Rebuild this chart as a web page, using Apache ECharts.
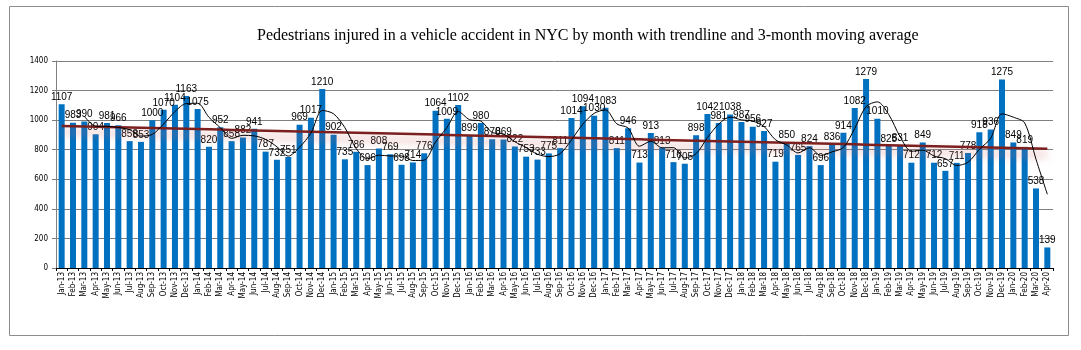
<!DOCTYPE html>
<html>
<head>
<meta charset="utf-8">
<script src="https://cdn.jsdelivr.net/npm/echarts@6/dist/echarts.min.js"></script>
<style>
  html, body { margin: 0; padding: 0; background: #fff; }
  #chart { width: 1081px; height: 350px; }
</style>
</head>
<body>
<div id="chart"></div>
<script>
var months = ['Jan','Feb','Mar','Apr','May','Jun','Jul','Aug','Sep','Oct','Nov','Dec'];
var categories = [];
for (var y = 13; y <= 20; y++) {
  for (var m = 0; m < 12; m++) {
    if (y === 20 && m > 3) break;
    categories.push(months[m] + '-' + y);
  }
}

var injured = [
  1107, 983, 990, 904, 981, 966, 858, 853, 1000, 1070, 1104, 1163,
  1075, 820, 952, 858, 882, 941, 787, 732, 751, 969, 1017, 1210,
  902, 735, 786, 696, 808, 769, 698, 714, 776, 1064, 1009, 1102,
  899, 980, 870, 869, 822, 753, 733, 775, 811, 1014, 1094, 1030,
  1083, 811, 946, 713, 913, 813, 716, 705, 898, 1042, 981, 1038,
  987, 956, 927, 719, 850, 765, 824, 696, 836, 914, 1082, 1279,
  1010, 825, 831, 712, 849, 712, 657, 711, 778, 918, 936, 1275,
  849, 819, 538, 139
];

var yTicks = [0, 200, 400, 600, 800, 1000, 1200, 1400];

// 3-month moving average
var movingAvg = injured.map(function (v, i) {
  if (i < 2) return null;
  return Math.round((injured[i] + injured[i - 1] + injured[i - 2]) / 3 * 10) / 10;
});

// linear trendline (least squares)
var n = injured.length, sx = 0, sy = 0, sxy = 0, sxx = 0;
injured.forEach(function (v, i) { sx += i; sy += v; sxy += i * v; sxx += i * i; });
var slope = (n * sxy - sx * sy) / (n * sxx - sx * sx);
var icpt = (sy - slope * sx) / n;
var trend = injured.map(function (v, i) { return icpt + slope * i; });

var chart = echarts.init(document.getElementById('chart'));
chart.setOption({
  animation: false,
  backgroundColor: '#fff',
  title: {
    text: 'Pedestrians injured in a vehicle accident in NYC by month with trendline and 3-month moving average',
    left: 252,
    top: 23,
    textStyle: { fontFamily: 'Liberation Serif', fontSize: 16, fontWeight: 'normal', color: '#000' }
  },
  graphic: [{
    type: 'rect',
    shape: { x: 9.5, y: 6.5, width: 1059, height: 329 },
    style: { fill: 'none', stroke: '#8c8c8c', lineWidth: 1 },
    silent: true
  }],
  grid: { left: 56, right: 28, top: 61, bottom: 82 },
  xAxis: {
    type: 'category',
    data: categories,
    axisLine: { lineStyle: { color: '#000', width: 1 } },
    axisTick: { show: true, alignWithLabel: false, length: 3, lineStyle: { color: '#000' } },
    axisLabel: {
      interval: 0, rotate: 90, fontSize: 8, color: '#000',
      fontFamily: 'DejaVu Sans Condensed', margin: 4
    }
  },
  yAxis: {
    type: 'value',
    min: yTicks[0], max: yTicks[yTicks.length - 1], interval: 200,
    axisLine: { show: true, lineStyle: { color: '#808080' } },
    axisTick: { show: true, length: 4, lineStyle: { color: '#808080' } },
    splitLine: { lineStyle: { color: '#808080', width: 1 } },
    axisLabel: {
      fontSize: 8, color: '#000', fontFamily: 'DejaVu Sans Condensed', margin: 8,
      formatter: function (v) { return String(v); }
    }
  },
  series: [
    {
      name: 'Injured',
      type: 'bar',
      data: injured,
      barWidth: 6,
      itemStyle: { color: '#0070C0' },
      label: {
        show: true, position: 'top', distance: 2,
        fontSize: 10, color: '#000', fontFamily: 'Liberation Sans'
      },
      z: 2
    },
    {
      name: 'Trend',
      type: 'line',
      data: trend,
      symbol: 'none',
      lineStyle: {
        color: '#7b1f1f', width: 2.5,
        shadowColor: 'rgba(210,110,110,0.7)', shadowBlur: 8, shadowOffsetY: 6
      },
      z: 3
    },
    {
      name: '3-month MA',
      type: 'line',
      data: movingAvg,
      symbol: 'none',
      smooth: 0.3,
      lineStyle: { color: '#000', width: 1 },
      z: 4
    }
  ]
});
</script>
</body>
</html>
